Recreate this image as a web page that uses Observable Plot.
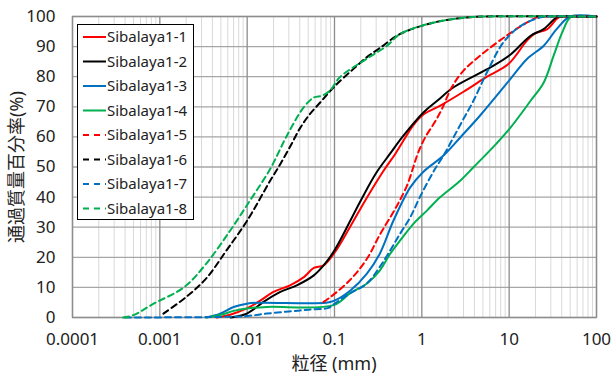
<!DOCTYPE html>
<html><head><meta charset="utf-8">
<script src="https://cdn.jsdelivr.net/npm/d3@7"></script>
<script src="https://cdn.jsdelivr.net/npm/@observablehq/plot@0.6"></script>
<style>
body{margin:0;background:#fff;}
#wrap{position:relative;width:614px;height:374px;overflow:hidden;}
#legend{position:absolute;left:77px;top:24px;width:117px;height:196px;border:1px solid #000;background:#fff;box-sizing:border-box;}
.title{position:absolute;font-family:"Noto Sans","Noto Sans CJK JP";font-size:18px;color:#222;white-space:nowrap;}
</style>
</head><body>
<div id="wrap"></div>
<script>
const names = ["Sibalaya1-1","Sibalaya1-2","Sibalaya1-3","Sibalaya1-4","Sibalaya1-5","Sibalaya1-6","Sibalaya1-7","Sibalaya1-8"];
const colors = ["#ff0000","#000000","#0070c0","#00b050","#ff0000","#000000","#0070c0","#00b050"];
const dashed = [false,false,false,false,true,true,true,true];

const s1 = [[0.0045,0],[0.0065,1],[0.0099,3],[0.014,5.5],[0.02,8.5],[0.031,10.7],[0.045,13.5],[0.058,16.5],[0.075,17.3],[0.1,21.5],[0.15,30],[0.225,38.9],[0.36,48.5],[0.5,54.5],[0.805,64],[1.05,67.5],[1.63,70.4],[3,75],[5.58,80],[9.8,84.2],[15.9,91.9],[20,94.5],[27,95.7],[37,99.7],[45,100],[100,100]];
const s2 = [[0.0065,0],[0.0099,1.3],[0.0154,5.2],[0.024,8.5],[0.037,10.7],[0.058,14],[0.075,17.3],[0.1,22.3],[0.2,38.9],[0.3,48],[0.435,54.5],[0.6,60],[1.05,68.2],[1.5,72],[2.31,76.5],[6.1,83.1],[10.3,87.3],[17.6,93.6],[24.8,95.8],[35,99.7],[40,100],[100,100]];
const s3 = [[0.0034,0],[0.0049,1.3],[0.007,3.5],[0.0099,4.6],[0.013,4.9],[0.08,4.9],[0.098,5.5],[0.152,9],[0.235,14.6],[0.33,21.2],[0.475,32.3],[0.74,43.3],[1.05,48.5],[1.77,53.8],[2.77,59.9],[4.65,67.1],[10.3,79.2],[16,85.9],[24.9,90.3],[35,95.8],[50,100],[100,100]];
const s4 = [[0.0034,0],[0.0049,0.8],[0.007,2.2],[0.0099,3],[0.0168,3.5],[0.098,4.1],[0.15,8],[0.235,11.3],[0.33,15.6],[0.435,21.2],[0.565,25.6],[0.805,31.2],[1.15,35.6],[1.63,40],[2.77,45.5],[3.9,49.9],[7.1,57.7],[10.3,63],[17.6,72],[24.9,78.1],[32.3,87],[40.5,94.7],[50,99.7],[60,100],[100,100]];
const s5 = [[0.075,5.2],[0.09,6.8],[0.15,12.4],[0.235,19.5],[0.33,27.5],[0.45,34],[0.55,38.5],[0.68,44],[0.8,50],[0.9,54.5],[1.1,60],[1.38,64.5],[1.7,69.3],[2.2,76.5],[3,82],[4.65,87],[9.3,93.6],[15,97.5],[21,99.7],[30,100],[100,100]];
const s6 = [[0.0011,1.3],[0.002,6.8],[0.0034,13],[0.0058,22.3],[0.0099,32],[0.0184,45.5],[0.024,51],[0.032,57.5],[0.0405,63],[0.052,67.5],[0.069,71.5],[0.098,76.5],[0.165,82.6],[0.235,86.5],[0.33,89.5],[0.565,94.2],[1.38,98],[3.3,99.7],[5,100],[100,100]];
const s7 = [[0.0004,0],[0.005,0.2],[0.01,0.5],[0.0168,1.3],[0.03,2],[0.05,2.6],[0.085,3.2],[0.098,4.4],[0.15,8],[0.235,11.3],[0.33,16.8],[0.435,22.3],[0.565,27.9],[0.74,33.4],[0.95,40],[1.38,48.8],[1.77,53.8],[2.31,59.9],[3,66],[3.9,72],[5.58,81.5],[8.6,91.4],[13.6,96.9],[23,99.7],[30,100],[100,100]];
const s8 = [[0.00038,0],[0.0005,0.8],[0.00085,4.6],[0.0019,10.1],[0.0034,17.9],[0.0064,28.9],[0.0108,38.9],[0.0184,49.4],[0.0285,60.4],[0.0443,69.8],[0.058,73.1],[0.072,73.7],[0.089,75.4],[0.115,79.8],[0.235,86],[0.4,90.3],[0.565,94.2],[1.38,98],[3.3,99.7],[5,100],[100,100]];
const series = [s1,s2,s3,s4,s5,s6,s7,s8];

const xTicks = [0.0001,0.001,0.01,0.1,1,10,100];
const xTickLabels = ["0.0001","0.001","0.01","0.1","1","10","100"];
const yTicks = [0,10,20,30,40,50,60,70,80,90,100];
const xTitle = "粒径 (mm)";
const yTitle = "通過質量百分率(%)";

const minor = [];
for (let i = 0; i < xTicks.length - 1; i++) for (let k = 2; k <= 9; k++) minor.push(xTicks[i] * k);

const font = "Noto Sans, Noto Sans CJK JP, sans-serif";
const lineMarks = series.map((s, i) => Plot.line(s, {
  x: d => d[0], y: d => d[1], stroke: colors[i], strokeWidth: 2,
  strokeDasharray: dashed[i] ? "6,4" : null, curve: "catmull-rom"
}));
const xLabelOf = d => xTickLabels[xTicks.findIndex(t => Math.abs(Math.log10(t) - Math.log10(d)) < 1e-6)];

const chart = Plot.plot({
  width: 614, height: 374,
  marginLeft: 72, marginRight: 18, marginTop: 16, marginBottom: 57,
  style: {fontFamily: font, background: "#fff", color: "#222"},
  x: {type: "log", domain: [0.0001, 100], axis: null},
  y: {domain: [0, 100], axis: null},
  marks: [
    Plot.ruleX(minor, {stroke: "#d9d9d9", strokeWidth: 1}),
    Plot.ruleY(yTicks, {stroke: "#a6a6a6", strokeWidth: 1.3}),
    Plot.ruleX(xTicks, {stroke: "#8c8c8c", strokeWidth: 1.3}),
    Plot.frame({stroke: "#8c8c8c", strokeWidth: 1.3}),
    ...lineMarks,
    Plot.axisY(yTicks, {tickSize: 0, tickPadding: 17, fontSize: 17, label: null, tickFormat: d => String(d)}),
    Plot.text(xTicks, {x: d => d, frameAnchor: "bottom", dy: 27, text: xLabelOf, fontSize: 17, fill: "#222"})
  ]
});

const wrap = document.getElementById("wrap");
wrap.appendChild(chart);

const xt = document.createElement("div");
xt.className = "title"; xt.textContent = xTitle;
xt.style.left = "334px"; xt.style.top = "362px"; xt.style.transform = "translate(-50%,-50%)";
wrap.appendChild(xt);
const yt = document.createElement("div");
yt.className = "title"; yt.textContent = yTitle;
yt.style.left = "15px"; yt.style.top = "167px"; yt.style.transform = "translate(-50%,-50%) rotate(-90deg)";
wrap.appendChild(yt);

const leg = document.createElement("div");
leg.id = "legend";
wrap.appendChild(leg);
const lsvg = d3.select(leg).append("svg").attr("width", 115).attr("height", 194);
names.forEach((n, i) => {
  const cy = 12 + i * 24.5;
  lsvg.append("line").attr("x1", 5).attr("x2", 28).attr("y1", cy).attr("y2", cy)
    .attr("stroke", colors[i]).attr("stroke-width", 2)
    .attr("stroke-dasharray", dashed[i] ? "6,5" : null);
  lsvg.append("text").attr("x", 29).attr("y", cy).attr("dy", "0.35em")
    .attr("font-family", font).attr("font-size", 15).attr("fill", "#222").text(n);
});
</script>
</body></html>
